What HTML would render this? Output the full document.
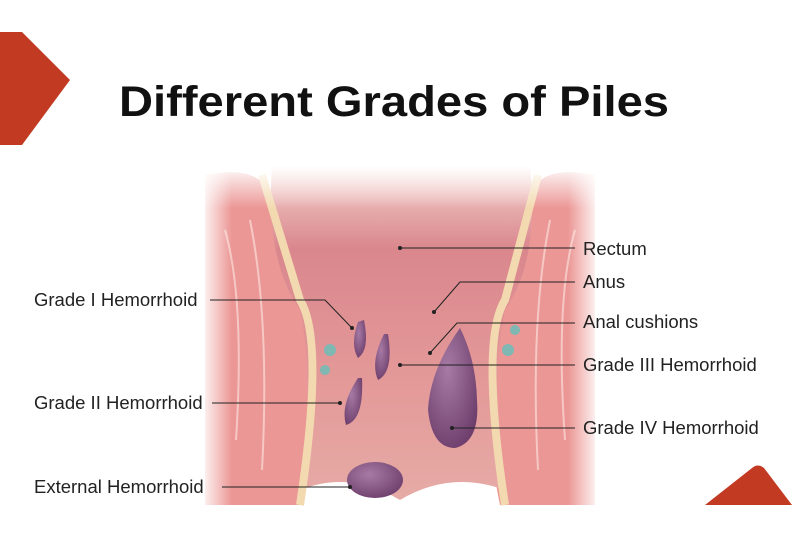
<!DOCTYPE html>
<html><head><style>
body{margin:0;width:800px;height:533px;background:#fff;overflow:hidden;position:relative;font-family:"Liberation Sans",sans-serif}
svg{position:absolute;left:0;top:0}
</style></head><body>
<svg width="800" height="533" viewBox="0 0 800 533">
<defs>
<linearGradient id="rect" x1="0" y1="0" x2="0" y2="1">
<stop offset="0" stop-color="#f5d3cf"/><stop offset="0.25" stop-color="#d9878d"/><stop offset="0.6" stop-color="#e39797"/><stop offset="1" stop-color="#e6aba6"/>
</linearGradient>
<radialGradient id="pur" cx="0.4" cy="0.35" r="0.7"><stop offset="0" stop-color="#a77aa5"/><stop offset="1" stop-color="#6e3f6c"/></radialGradient>
<linearGradient id="mh" x1="0" y1="0" x2="1" y2="0"><stop offset="0" stop-color="#000"/><stop offset="0.08" stop-color="#fff"/><stop offset="0.92" stop-color="#fff"/><stop offset="1" stop-color="#000"/></linearGradient>
<linearGradient id="mt" x1="0" y1="0" x2="0" y2="1"><stop offset="0" stop-color="#000"/><stop offset="0.12" stop-color="#fff"/><stop offset="1" stop-color="#fff"/></linearGradient>
<mask id="m"><rect x="200" y="160" width="400" height="360" fill="url(#mh)"/></mask>
<mask id="m2"><rect x="190" y="165" width="420" height="360" fill="url(#mt)"/></mask>
</defs>
<polygon points="0,32 22,32 70,80 22,145 0,145" fill="#c23a22"/>
<path d="M705,505 L752,468 Q758,463 764,468 L792,505 Z" fill="#c23a22"/>
<text x="119" y="116" textLength="550" lengthAdjust="spacingAndGlyphs" font-size="43" font-weight="bold" fill="#111">Different Grades of Piles</text>
<g mask="url(#m)"><g mask="url(#m2)">
<path d="M205,175 Q255,165 268,190 L300,300 Q322,400 300,505 L205,505 Z" fill="#eb9795"/>
<path d="M595,175 Q545,165 532,190 L500,300 Q478,400 500,505 L595,505 Z" fill="#eb9795"/>
<path d="M225,230 Q245,300 236,440 M250,220 Q270,320 262,470 M575,230 Q555,300 565,440 M550,220 Q530,320 538,470" stroke="#f6c8c4" stroke-width="2" fill="none"/>
<path d="M272,165 L530,165 Q540,260 505,310 Q490,380 505,490 Q450,470 400,500 Q350,470 300,490 Q315,380 300,310 Q265,260 272,165 Z" fill="url(#rect)"/>
<path d="M262,175 L300,300 Q325,340 300,505" stroke="#f3d9b0" stroke-width="8" fill="none"/>
<path d="M538,175 L505,300 Q480,340 505,505" stroke="#f3d9b0" stroke-width="8" fill="none"/>
</g></g>
<circle cx="330" cy="350" r="6" fill="#7fb7b3"/><circle cx="325" cy="370" r="5" fill="#7fb7b3"/><circle cx="515" cy="330" r="5" fill="#7fb7b3"/><circle cx="508" cy="350" r="6" fill="#7fb7b3"/>
<path d="M358,322 Q350,345 358,358 Q370,350 364,320 Z" fill="url(#pur)"/>
<path d="M384,334 Q370,362 378,380 Q394,372 388,334 Z" fill="url(#pur)"/>
<path d="M358,378 Q340,405 346,425 Q364,420 362,378 Z" fill="url(#pur)"/>
<path d="M460,328 Q430,370 428,410 Q432,448 455,448 Q480,442 477,400 Q476,360 460,328 Z" fill="url(#pur)"/>
<ellipse cx="375" cy="480" rx="28" ry="18" fill="url(#pur)"/>
<g stroke="#222" stroke-width="1" fill="none">
<path d="M400,248 H575"/><path d="M434,312 L460,282 H575"/><path d="M430,353 L457,323 H575"/>
<path d="M400,365 H575"/><path d="M452,428 H575"/><path d="M210,300 H325 L352,328"/>
<path d="M212,403 H340"/><path d="M222,487 H350"/>
</g>
<g fill="#222"><circle cx="400" cy="248" r="2"/><circle cx="434" cy="312" r="2"/><circle cx="430" cy="353" r="2"/><circle cx="400" cy="365" r="2"/><circle cx="452" cy="428" r="2"/><circle cx="352" cy="328" r="2"/><circle cx="340" cy="403" r="2"/><circle cx="350" cy="487" r="2"/></g>
<g font-size="18.5" fill="#222">
<text x="583" y="255">Rectum</text><text x="583" y="288">Anus</text><text x="583" y="328">Anal cushions</text>
<text x="583" y="371">Grade III Hemorrhoid</text><text x="583" y="434">Grade IV Hemorrhoid</text>
<text x="34" y="306">Grade I Hemorrhoid</text><text x="34" y="409">Grade II Hemorrhoid</text><text x="34" y="493">External Hemorrhoid</text>
</g>
</svg>
</body></html>
